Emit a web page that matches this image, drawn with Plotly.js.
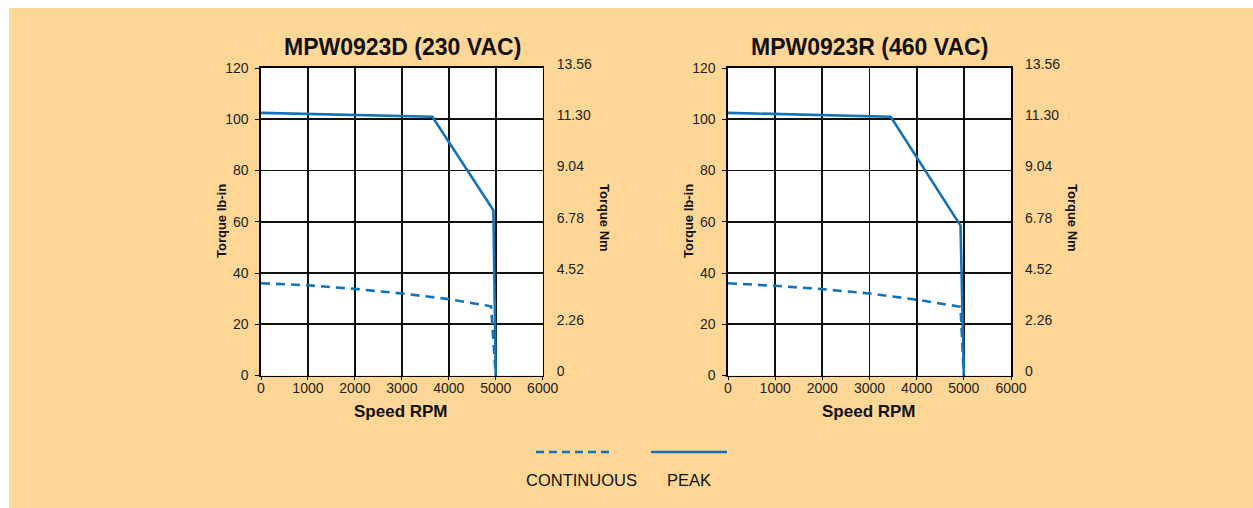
<!DOCTYPE html>
<html>
<head>
<meta charset="utf-8">
<script src="https://cdn.plot.ly/plotly-3.0.1.min.js"></script>
<style>
  html, body { margin: 0; padding: 0; background: #ffffff; }
  #chart { position: absolute; left: 9px; top: 8px; width: 1244px; height: 500px; }
</style>
</head>
<body>
<div id="chart"></div>
<script>
// ---- data ----
const speedTicks = [0, 1000, 2000, 3000, 4000, 5000, 6000];
const torqueLbTicks = [0, 20, 40, 60, 80, 100, 120];
const torqueNmTicks = [0, 2.26, 4.52, 6.78, 9.04, 11.30, 13.56];
const torqueNmLabels = ["0", "2.26", "4.52", "6.78", "9.04", "11.30", "13.56"];

const dPeakSpeed = [0, 3650, 4950, 5000];
const dPeakTorque = [102.5, 101, 64.5, 0];
const dContSpeed = [0, 1000, 2000, 3000, 4000, 4900, 5000];
const dContTorque = [36, 35.2, 33.8, 32.0, 29.8, 27, 0];

const rPeakSpeed = [0, 3450, 4930, 5000];
const rPeakTorque = [102.5, 101, 58.5, 0];
const rContSpeed = [0, 1000, 2000, 3000, 4000, 4930, 5000];
const rContTorque = [36, 35.0, 33.7, 32.0, 29.6, 26.8, 0];

const titles = ["MPW0923D (230 VAC)", "MPW0923R (460 VAC)"];
const xTitle = "Speed RPM";
const yLeftTitle = "Torque lb-in";
const yRightTitle = "Torque Nm";
const legendNames = ["CONTINUOUS", "PEAK"];

// ---- styling / geometry ----
const W = 1244, H = 500, OX = 9, OY = 8;
const px = x => (x - OX) / W;
const py = y => 1 - (y - OY) / H;
const blue = "#1472b9";
const bg = "#fed696";
const txt = "#231f20";
const font = "Liberation Sans, Arial, Helvetica, sans-serif";

const traces = [
  {x: dContSpeed, y: dContTorque, xaxis: "x", yaxis: "y", mode: "lines",
   line: {color: blue, width: 2.6, dash: "9px,6px"}, showlegend: false, hoverinfo: "skip"},
  {x: dPeakSpeed, y: dPeakTorque, xaxis: "x", yaxis: "y", mode: "lines",
   line: {color: blue, width: 2.6}, showlegend: false, hoverinfo: "skip"},
  {x: rContSpeed, y: rContTorque, xaxis: "x2", yaxis: "y3", mode: "lines",
   line: {color: blue, width: 2.6, dash: "9px,6px"}, showlegend: false, hoverinfo: "skip"},
  {x: rPeakSpeed, y: rPeakTorque, xaxis: "x2", yaxis: "y3", mode: "lines",
   line: {color: blue, width: 2.6}, showlegend: false, hoverinfo: "skip"},
  // invisible traces to activate the Nm axes
  {x: [0], y: [0], xaxis: "x", yaxis: "y2", mode: "markers", marker: {opacity: 0}, showlegend: false, hoverinfo: "skip"},
  {x: [0], y: [0], xaxis: "x2", yaxis: "y4", mode: "markers", marker: {opacity: 0}, showlegend: false, hoverinfo: "skip"}
];

const yTop = 68, yBot = 375.5;
const xAx = (dom) => ({
  domain: dom, range: [0, 6000], tickvals: speedTicks, ticks: "outside", ticklen: 3,
  tickcolor: "#000", tickwidth: 1, showgrid: true, gridcolor: "#111", gridwidth: 1.7,
  showline: true, linecolor: "#000", linewidth: 1.7, mirror: true, zeroline: false,
  ticklabelstandoff: -4,
  tickfont: {size: 14, color: txt, family: font}, fixedrange: true
});
const yAx = (anchor) => ({
  anchor: anchor, domain: [py(yBot), py(yTop)], range: [0, 120], tickvals: torqueLbTicks,
  ticks: "outside", ticklen: 4, tickcolor: "#000", tickwidth: 1, ticklabelstandoff: 4,
  showgrid: true, gridcolor: "#111", gridwidth: 1.7,
  showline: true, linecolor: "#000", linewidth: 1.7, mirror: true, zeroline: false,
  tickfont: {size: 14, color: txt, family: font}, fixedrange: true
});
const yAxR = (over, anchor) => ({
  overlaying: over, anchor: anchor, side: "right", domain: [py(yBot), py(yTop)],
  range: [0, 13.56], tickvals: torqueNmTicks, ticktext: torqueNmLabels,
  ticks: "", showgrid: false, showline: false, zeroline: false, ticklabelstandoff: 13,
  ticklabelshift: -4,
  tickfont: {size: 14, color: txt, family: font}, fixedrange: true
});

const legY = 452, legTxtY = 480;
const layout = {
  width: W, height: H,
  margin: {l: 0, r: 0, t: 0, b: 0},
  paper_bgcolor: bg, plot_bgcolor: "#ffffff",
  font: {family: font, color: txt},
  showlegend: false,
  xaxis: Object.assign(xAx([px(261), px(542.7)]), {anchor: "y"}),
  yaxis: yAx("x"),
  yaxis2: yAxR("y", "x"),
  xaxis2: Object.assign(xAx([px(728), px(1011)]), {anchor: "y3"}),
  yaxis3: yAx("x2"),
  yaxis4: yAxR("y3", "x2"),
  shapes: [
    {type: "line", xref: "paper", yref: "paper", x0: px(536), x1: px(612), y0: py(legY), y1: py(legY),
     line: {color: blue, width: 2.6, dash: "8px,5px"}},
    {type: "line", xref: "paper", yref: "paper", x0: px(651), x1: px(727), y0: py(legY), y1: py(legY),
     line: {color: blue, width: 2.6}}
  ],
  annotations: [
    {text: titles[0], xref: "paper", yref: "paper", x: px(402), y: py(47), showarrow: false,
     font: {size: 23, weight: "bold", color: "#111"}, xanchor: "center", yanchor: "middle"},
    {text: titles[1], xref: "paper", yref: "paper", x: px(869), y: py(47), showarrow: false,
     font: {size: 23, weight: "bold", color: "#111"}, xanchor: "center", yanchor: "middle"},
    {text: xTitle, xref: "paper", yref: "paper", x: px(401), y: py(411), showarrow: false,
     font: {size: 17, weight: "bold", color: "#111"}, xanchor: "center", yanchor: "middle"},
    {text: xTitle, xref: "paper", yref: "paper", x: px(869), y: py(411), showarrow: false,
     font: {size: 17, weight: "bold", color: "#111"}, xanchor: "center", yanchor: "middle"},
    {text: yLeftTitle, xref: "paper", yref: "paper", x: px(222), y: py(221), showarrow: false, textangle: -90,
     font: {size: 13, weight: "bold", color: "#111"}, xanchor: "center", yanchor: "middle"},
    {text: yLeftTitle, xref: "paper", yref: "paper", x: px(689), y: py(221), showarrow: false, textangle: -90,
     font: {size: 13, weight: "bold", color: "#111"}, xanchor: "center", yanchor: "middle"},
    {text: yRightTitle, xref: "paper", yref: "paper", x: px(604), y: py(218), showarrow: false, textangle: 90,
     font: {size: 13, weight: "bold", color: "#111"}, xanchor: "center", yanchor: "middle"},
    {text: yRightTitle, xref: "paper", yref: "paper", x: px(1072), y: py(218), showarrow: false, textangle: 90,
     font: {size: 13, weight: "bold", color: "#111"}, xanchor: "center", yanchor: "middle"},
    {text: legendNames[0], xref: "paper", yref: "paper", x: px(581), y: py(legTxtY), showarrow: false,
     font: {size: 16.5, color: "#111"}, xanchor: "center", yanchor: "middle"},
    {text: legendNames[1], xref: "paper", yref: "paper", x: px(689), y: py(legTxtY), showarrow: false,
     font: {size: 16.5, color: "#111"}, xanchor: "center", yanchor: "middle"}
  ]
};

Plotly.newPlot("chart", traces, layout, {staticPlot: true, displayModeBar: false});
</script>
</body>
</html>
